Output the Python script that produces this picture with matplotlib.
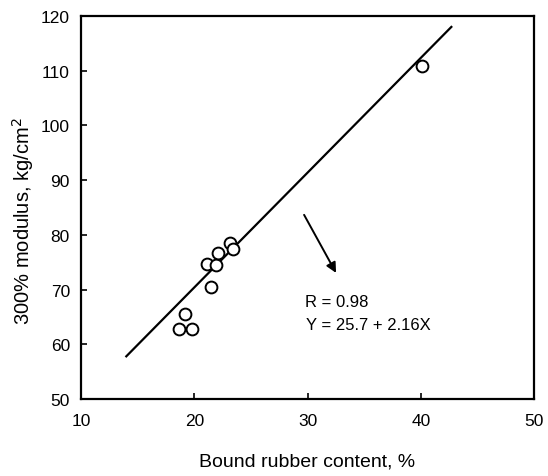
import matplotlib
matplotlib.use('Agg')
import matplotlib.pyplot as plt

# bound rubber content (%) vs 300% modulus (kg/cm2)
bound_rubber = [18.65, 19.77, 19.2, 21.45, 21.1, 21.9, 22.12, 23.16, 23.45, 40.1]
modulus = [62.8, 62.8, 65.5, 70.5, 74.7, 74.5, 76.7, 78.6, 77.5, 110.9]

# fitted line endpoints as drawn
fit_x = [14.0, 42.7]
fit_y = [57.8, 118.0]

x_ticks = [10, 20, 30, 40, 50]
y_ticks = [50, 60, 70, 80, 90, 100, 110, 120]

plt.rcParams['font.family'] = ['Liberation Sans', 'DejaVu Sans']

fig = plt.figure(figsize=(5.48, 4.77), dpi=100)
ax = fig.add_axes([0.1478, 0.1614, 0.8267, 0.803])

ax.plot(fit_x, fit_y, color='black', lw=1.6)
ax.plot(bound_rubber, modulus, 'o', mfc='white', mec='black', mew=1.4, ms=8.5)

ax.annotate('', xy=(32.64, 72.6), xytext=(29.58, 84.1),
            arrowprops=dict(arrowstyle='-|>', color='black', lw=1.4, mutation_scale=15))
ax.text(29.8, 67.9, 'R = 0.98', fontsize=12, va='center')
ax.text(29.9, 63.7, 'Y = 25.7 + 2.16X', fontsize=12, va='center')

ax.set_xlim(10, 50)
ax.set_ylim(50, 120)
ax.set_xticks(x_ticks)
ax.set_yticks(y_ticks)
ax.tick_params(direction='in', length=4, width=1.2, labelsize=12.5, top=False, right=False)
ax.tick_params(axis='y', pad=8)
ax.tick_params(axis='x', pad=10)
for s in ax.spines.values():
    s.set_linewidth(1.6)

ax.set_xlabel('Bound rubber content, %', fontsize=14, labelpad=18)
ax.set_ylabel('300% modulus, kg/cm$^2$', fontsize=14.5)
ax.yaxis.set_label_coords(-0.10, 0.467)

fig.savefig('out.png', dpi=100)
